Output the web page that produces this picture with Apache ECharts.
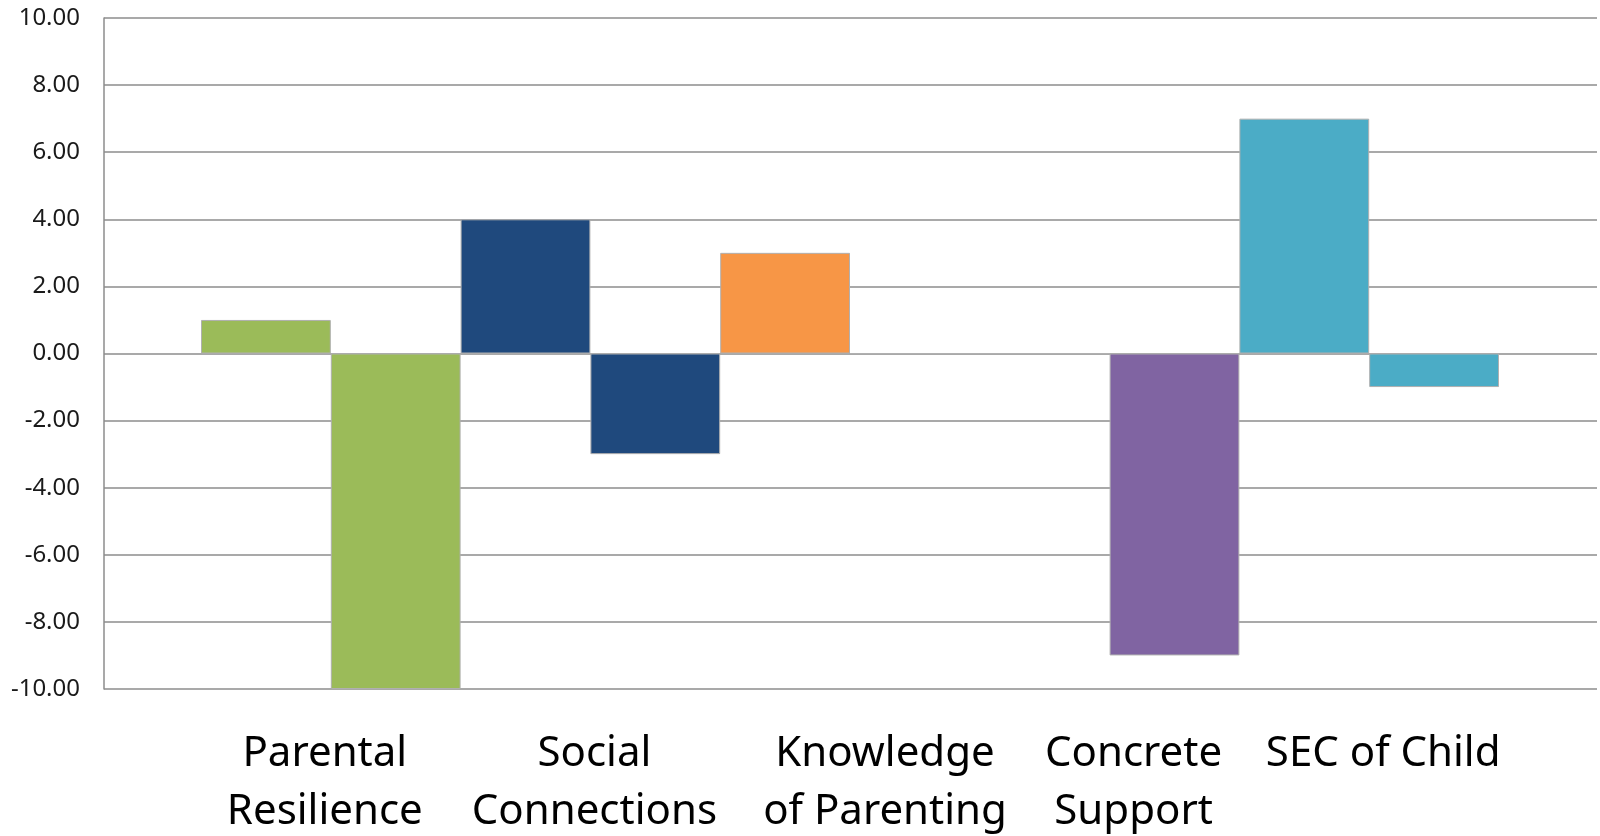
<!DOCTYPE html>
<html>
<head>
<meta charset="utf-8">
<script src="https://cdn.jsdelivr.net/npm/echarts@6/dist/echarts.min.js"></script>
<style>html,body{margin:0;padding:0;background:#fff;}#c{width:1600px;height:836px;}</style>
</head>
<body>
<div id="c"></div>
<script>
const categories = ['Parental\nResilience', 'Social\nConnections', 'Knowledge\nof Parenting', 'Concrete\nSupport', 'SEC of Child'];
const firstValues = [1, 4, 3, 0, 7];
const secondValues = [-10, -3, 0, -9, -1];
const categoryColors = ['#9BBB59', '#1F497D', '#F79646', '#8064A2', '#4BACC6'];
const yTicks = { min: -10, max: 10, interval: 2 };
const labelShift = [-6, 4, 35, 24, 14];

const FONT = 'Noto Sans';
const rich = {};
labelShift.forEach((s, i) => {
  rich['k' + i] = {
    fontFamily: FONT, fontSize: 42, color: '#000', lineHeight: 58,
    padding: s >= 0 ? [0, 0, 0, 2 * s] : [0, -2 * s, 0, 0]
  };
});

const chart = echarts.init(document.getElementById('c'));
const barStyle = {
  color: p => categoryColors[p.dataIndex],
  borderColor: '#b0b0b0', borderWidth: 1
};
chart.setOption({
  animation: false,
  grid: [
    { left: 201, right: 101, top: 18, bottom: 147, containLabel: false, outerBoundsMode: 'none' },
    { left: 104, right: 3, top: 18, bottom: 147, containLabel: false, outerBoundsMode: 'none' }
  ],
  xAxis: [
    {
      type: 'category', gridIndex: 0, data: categories,
      axisLine: { show: false }, axisTick: { show: false },
      axisLabel: {
        interval: 0, margin: 36,
        formatter: (v, i) => v.split('\n').map(l => '{k' + i + '|' + l + '}').join('\n'),
        rich: rich
      }
    },
    {
      type: 'value', gridIndex: 1, show: false, min: 0, max: 1
    }
  ],
  yAxis: [
    {
      type: 'value', gridIndex: 0, min: yTicks.min, max: yTicks.max, interval: yTicks.interval,
      show: false, splitLine: { show: false }
    },
    {
      type: 'value', gridIndex: 1, min: yTicks.min, max: yTicks.max, interval: yTicks.interval,
      axisLine: { show: true, lineStyle: { color: '#8c8c8c', width: 1.5 } },
      axisTick: { show: false },
      axisLabel: {
        formatter: v => v.toFixed(2), fontFamily: FONT, fontSize: 24, color: '#1a1a1a', margin: 24
      },
      splitLine: { show: true, lineStyle: { color: '#8c8c8c', width: 1.5 } }
    }
  ],
  series: [
    {
      type: 'bar', xAxisIndex: 0, yAxisIndex: 0, data: firstValues,
      barGap: '0%', barCategoryGap: '0%', itemStyle: barStyle
    },
    {
      type: 'bar', xAxisIndex: 0, yAxisIndex: 0, data: secondValues,
      barGap: '0%', barCategoryGap: '0%', itemStyle: barStyle
    }
  ]
});
</script>
</body>
</html>
